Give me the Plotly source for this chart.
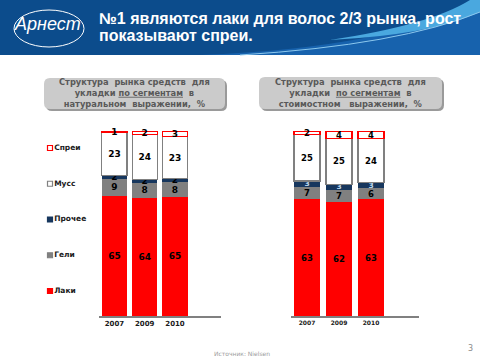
import plotly.graph_objects as go

# ---------------- data ----------------
years = ["2007", "2009", "2010"]
series_names = ["Лаки", "Гели", "Прочее", "Мусс", "Спреи"]

natural_laki = [65, 64, 65]
natural_geli = [9, 8, 8]
natural_other = [2, 2, 2]
natural_muss = [23, 24, 23]
natural_spray = [1, 2, 3]

value_laki = [63, 62, 63]
value_geli = [7, 7, 6]
value_other = [3, 3, 3]
value_muss = [25, 25, 24]
value_spray = [2, 4, 4]

natural = [natural_laki, natural_geli, natural_other, natural_muss, natural_spray]
value = [value_laki, value_geli, value_other, value_muss, value_spray]

# ---------------- styles ----------------
W, H = 480, 360
fills = ["#FF0000", "#808080", "#17375E", "#FFFFFF", "#FFFFFF"]
lines = ["#FF0000", "#808080", "#17375E", "#808080", "#FF0000"]
linew = [0, 0, 0, 1.2, 1.2]
label_col_left = ["#000000", "#000000", "#000000", "#000000", "#000000"]
label_col_right = ["#000000", "#000000", "#BDD7EE", "#000000", "#000000"]
label_size_right = [8.5, 8.5, 7.5, 8.5, 8.5]
FONT = "DejaVu Sans"


def px(x):
    return x / W


def py(y):
    return 1 - y / H


fig = go.Figure()

xpos = [0, 1, 2]
for i, name in enumerate(series_names):
    fig.add_trace(go.Bar(
        x=xpos, y=natural[i], name=name, xaxis="x", yaxis="y",
        width=0.83, marker=dict(color=fills[i], line=dict(color=lines[i], width=linew[i])),
        text=natural[i], textposition="inside", insidetextanchor="middle",
        constraintext="none", textangle=0, cliponaxis=False,
        textfont=dict(family=FONT, size=9, color=label_col_left[i], weight="bold"),
        showlegend=False, hoverinfo="skip"))
for i, name in enumerate(series_names):
    fig.add_trace(go.Bar(
        x=xpos, y=value[i], name=name, xaxis="x2", yaxis="y2",
        width=0.81, marker=dict(color=fills[i], line=dict(color=lines[i], width=linew[i])),
        text=value[i], textposition="inside", insidetextanchor="middle",
        constraintext="none", textangle=0, cliponaxis=False,
        textfont=dict(family=FONT, size=label_size_right[i], color=label_col_right[i], weight="bold"),
        showlegend=False, hoverinfo="skip"))

# legend drawn as a small scatter on its own axes
fig.add_trace(go.Scatter(
    x=[0] * len(series_names), y=series_names, xaxis="x3", yaxis="y3",
    mode="markers+text", text=series_names, textposition="middle right",
    marker=dict(symbol="square", size=5, color=fills, line=dict(color=lines, width=1.2)),
    textfont=dict(family=FONT, size=7.5, color="#1a1a1a", weight="bold"),
    showlegend=False, hoverinfo="skip", cliponaxis=False))

# ---------------- shapes (decoration) ----------------
shapes = []
# header banner
shapes.append(dict(type="rect", xref="paper", yref="paper", x0=0, x1=1, y0=py(55), y1=1,
                   fillcolor="#0C4C8C", line=dict(width=0), layer="below"))
shapes.append(dict(type="path", xref="paper", yref="paper", layer="below",
                   path=f"M {px(200)},{py(55)} Q {px(390)},{py(48)} {px(480)},{py(0)} L {px(480)},{py(55)} Z",
                   fillcolor="#1762AD", line=dict(width=0)))
shapes.append(dict(type="path", xref="paper", yref="paper", layer="below",
                   path=f"M {px(330)},{py(40)} Q {px(430)},{py(25)} {px(470)},{py(0)} L {px(480)},{py(0)} L {px(480)},{py(12)} Q {px(430)},{py(35)} {px(330)},{py(40)} Z",
                   fillcolor="#4AA8DF", line=dict(width=0)))
shapes.append(dict(type="path", xref="paper", yref="paper", layer="below",
                   path=f"M {px(240)},{py(55)} Q {px(400)},{py(45)} {px(480)},{py(12)}",
                   line=dict(color="#8CC8EE", width=1)))
# logo ellipse
shapes.append(dict(type="circle", xref="paper", yref="paper", x0=px(14), x1=px(84), y0=py(47), y1=py(10),
                   line=dict(color="white", width=1)))


def rrect(x0, y0, x1, y1, r):
    return (f"M {px(x0 + r)},{py(y0)} L {px(x1 - r)},{py(y0)} Q {px(x1)},{py(y0)} {px(x1)},{py(y0 + r)} "
            f"L {px(x1)},{py(y1 - r)} Q {px(x1)},{py(y1)} {px(x1 - r)},{py(y1)} "
            f"L {px(x0 + r)},{py(y1)} Q {px(x0)},{py(y1)} {px(x0)},{py(y1 - r)} "
            f"L {px(x0)},{py(y0 + r)} Q {px(x0)},{py(y0)} {px(x0 + r)},{py(y0)} Z")


for (bx0, by0, bx1, by1) in [(44, 78, 225, 109), (259, 77, 442, 109)]:
    shapes.append(dict(type="path", xref="paper", yref="paper", layer="below",
                       path=rrect(bx0 + 2, by0 + 2, bx1 + 2, by1 + 2, 6),
                       fillcolor="#9A9A9A", line=dict(width=0)))
    shapes.append(dict(type="path", xref="paper", yref="paper", layer="below",
                       path=rrect(bx0, by0, bx1, by1, 6),
                       fillcolor="#CBCBCB", line=dict(width=0)))

# ---------------- annotations ----------------
ann = []
ann.append(dict(xref="paper", yref="paper", x=px(97), y=py(18), xanchor="left", yanchor="middle",
                text="<b>№1 являются лаки для волос 2/3 рынка, рост</b>",
                showarrow=False, align="left",
                font=dict(family="Liberation Sans", size=16, color="white")))
ann.append(dict(xref="paper", yref="paper", x=px(97), y=py(36), xanchor="left", yanchor="middle",
                text="<b>показывают спреи.</b>",
                showarrow=False, align="left",
                font=dict(family="Liberation Sans", size=16, color="white")))
ann.append(dict(xref="paper", yref="paper", x=px(47), y=py(24), xanchor="center", yanchor="middle",
                text="<i>Арнест</i>", showarrow=False,
                font=dict(family="Liberation Sans", size=18, color="white")))
ann.append(dict(xref="paper", yref="paper", x=px(134.5), y=py(93.5), xanchor="center", yanchor="middle",
                text="<b>Структура  рынка средств  для<br>укладки <u>по сегментам</u>  в<br>натуральном  выражении,  %</b>",
                showarrow=False, align="center",
                font=dict(family=FONT, size=8.3, color="#595959")))
ann.append(dict(xref="paper", yref="paper", x=px(350.5), y=py(93), xanchor="center", yanchor="middle",
                text="<b>Структура  рынка средств  для<br>укладки  <u>по сегментам</u>  в<br>стоимостном   выражении,  %</b>",
                showarrow=False, align="center",
                font=dict(family=FONT, size=8.3, color="#595959")))
ann.append(dict(xref="paper", yref="paper", x=px(242), y=py(353), xanchor="center", yanchor="middle",
                text="Источник: Nielsen", showarrow=False,
                font=dict(family=FONT, size=6, color="#9A9A9A")))
ann.append(dict(xref="paper", yref="paper", x=px(470), y=py(348), xanchor="center", yanchor="middle",
                text="3", showarrow=False,
                font=dict(family=FONT, size=8, color="#8A8A8A")))

# ---------------- layout ----------------
axis_common = dict(showgrid=False, zeroline=False, showline=True, linecolor="#808080", linewidth=1.5,
                   ticks="", tickmode="array", tickvals=xpos, ticktext=years, fixedrange=True)
fig.update_layout(
    width=W, height=H, margin=dict(l=0, r=0, t=0, b=0),
    paper_bgcolor="white", plot_bgcolor="rgba(0,0,0,0)",
    barmode="stack", barnorm="percent",
    showlegend=False,
    xaxis=dict(domain=[px(99), px(221)], range=[-0.51, 3.52],
               tickfont=dict(family=FONT, size=7, color="#1a1a1a", weight="bold"), **axis_common),
    yaxis=dict(domain=[py(316), py(131)], range=[0, 100], visible=False, fixedrange=True),
    xaxis2=dict(domain=[px(291), px(419)], range=[-0.5, 3.5],
                tickfont=dict(family=FONT, size=6, color="#1a1a1a", weight="bold"), **axis_common),
    yaxis2=dict(domain=[py(316), py(131)], range=[0, 100], visible=False, fixedrange=True),
    xaxis3=dict(domain=[px(40), px(110)], range=[-10, 60], visible=False, fixedrange=True),
    yaxis3=dict(domain=[py(320), py(120)], range=[-0.811, 4.783], visible=False, fixedrange=True,
                type="category", categoryorder="array", categoryarray=series_names),
    shapes=shapes, annotations=ann,
)

fig.write_html("out.html", config={"displayModeBar": False},
               post_script="document.body.style.margin='0px';document.body.style.overflow='hidden';")
